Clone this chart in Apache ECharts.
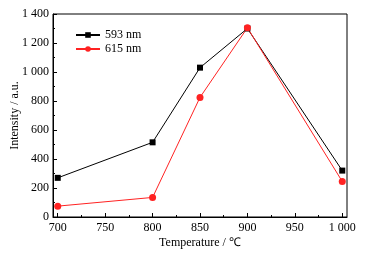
<!DOCTYPE html>
<html>
<head>
<meta charset="utf-8">
<script src="https://cdn.jsdelivr.net/npm/echarts@6/dist/echarts.min.js"></script>
<style>
  html, body { margin: 0; padding: 0; background: #fff; }
  #chart { width: 370px; height: 260px; }
</style>
</head>
<body>
<div id="chart"></div>
<script>
// temperatures (℃) and intensities
const temps = [700, 800, 850, 900, 1000];
const em593 = [270, 515, 1030, 1300, 320];
const em615 = [75, 135, 825, 1305, 245];
const xMajorTicks = [700, 750, 800, 850, 900, 950, 1000];
const xMinorTicks = [725, 775, 825, 875, 925, 975];

const serif = "Liberation Serif";

// 1400 -> "1 400"
function spaced(v) {
  return String(v).replace(/\B(?=(\d{3})+(?!\d))/g, " ");
}

const chart = echarts.init(document.getElementById("chart"));
const option = {
  animation: false,
  textStyle: { fontFamily: serif, color: "#000" },
  grid: {
    left: 53,
    top: 14,
    right: 23,
    bottom: 43,
    outerBoundsMode: "none",
    show: true,
    borderColor: "#000",
    borderWidth: 1,
  },
  legend: {
    orient: "vertical",
    left: 75,
    top: 28,
    padding: 0,
    itemWidth: 24,
    itemHeight: 7,
    itemGap: 0,
    textStyle: { fontFamily: serif, fontSize: 12, lineHeight: 14, color: "#000" },
    data: ["593 nm", "615 nm"],
  },
  xAxis: [
    {
      type: "value",
      min: 695,
      max: 1005,
      name: "Temperature / ℃",
      nameLocation: "middle",
      nameGap: 20,
      nameMoveOverlap: false,
      nameTextStyle: { fontFamily: serif, fontSize: 12, color: "#000" },
      axisLine: { show: true, lineStyle: { color: "#000" } },
      axisTick: {
        show: true,
        inside: true,
        length: 4,
        customValues: xMajorTicks,
        lineStyle: { color: "#000" },
      },
      axisLabel: {
        customValues: xMajorTicks,
        formatter: spaced,
        margin: 5,
        fontFamily: serif,
        fontSize: 12,
        color: "#000",
      },
      splitLine: { show: false },
    },
    {
      type: "value",
      min: 695,
      max: 1005,
      position: "bottom",
      axisLine: { show: false },
      axisTick: {
        show: true,
        inside: true,
        length: 2,
        customValues: xMinorTicks,
        lineStyle: { color: "#000" },
      },
      axisLabel: { show: false },
      splitLine: { show: false },
    },
  ],
  yAxis: {
    type: "value",
    min: 0,
    max: 1400,
    interval: 200,
    name: "Intensity / a.u.",
    nameLocation: "middle",
    nameGap: 32,
    nameMoveOverlap: false,
    nameTextStyle: { fontFamily: serif, fontSize: 12, color: "#000" },
    axisLine: { show: true, lineStyle: { color: "#000" } },
    axisTick: { show: true, inside: true, length: 4, lineStyle: { color: "#000" } },
    minorTick: { show: true, splitNumber: 2, length: 2, lineStyle: { color: "#000" } },
    axisLabel: {
      formatter: spaced,
      margin: 4,
      fontFamily: serif,
      fontSize: 12,
      color: "#000",
    },
    splitLine: { show: false },
  },
  series: [
    {
      name: "593 nm",
      type: "line",
      data: temps.map((t, i) => [t, em593[i]]),
      symbol: "rect",
      symbolSize: 6,
      color: "#000",
      lineStyle: { width: 1, color: "#000" },
      itemStyle: { color: "#000" },
    },
    {
      name: "615 nm",
      type: "line",
      data: temps.map((t, i) => [t, em615[i]]),
      symbol: "circle",
      symbolSize: 7,
      color: "#f22",
      lineStyle: { width: 1, color: "#f22" },
      itemStyle: { color: "#f22" },
    },
  ],
};
chart.setOption(option);
</script>
</body>
</html>
